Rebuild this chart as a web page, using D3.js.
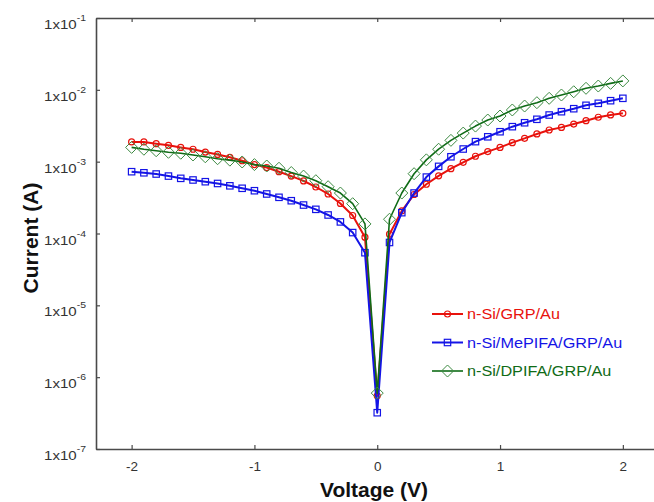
<!DOCTYPE html>
<html>
<head>
<meta charset="utf-8">
<script src="https://cdn.jsdelivr.net/npm/d3@7"></script>
<style>
  html, body { margin: 0; padding: 0; background: #fff; }
  svg { display: block; font-family: "Liberation Sans", Arial, sans-serif; }
</style>
</head>
<body>
<svg id="chart" width="654" height="502"></svg>
<script>
// ---- data ----
const voltages = [-2.0,-1.9,-1.8,-1.7,-1.6,-1.5,-1.4,-1.3,-1.2,-1.1,-1.0,-0.9,-0.8,-0.7,-0.6,-0.5,-0.4,-0.3,-0.2,-0.1,
  0.0,0.1,0.2,0.3,0.4,0.5,0.6,0.7,0.8,0.9,1.0,1.1,1.2,1.3,1.4,1.5,1.6,1.7,1.8,1.9,2.0];

const currentGRP = [1.88e-3,1.88e-3,1.78e-3,1.69e-3,1.58e-3,1.49e-3,1.36e-3,1.26e-3,1.15e-3,1.03e-3,
  9.1e-4,8.3e-4,7.25e-4,6.3e-4,5.4e-4,4.44e-4,3.55e-4,2.62e-4,1.78e-4,8.9e-5,
  5.5e-7,
  9.8e-5,2.06e-4,3.49e-4,4.85e-4,6.35e-4,8.0e-4,9.8e-4,1.19e-3,1.38e-3,1.58e-3,
  1.84e-3,2.11e-3,2.43e-3,2.76e-3,3.0e-3,3.34e-3,3.72e-3,4.15e-3,4.47e-3,4.71e-3];

const currentMePIFA = [7.25e-4,7.0e-4,6.73e-4,6.3e-4,5.86e-4,5.56e-4,5.26e-4,4.97e-4,4.61e-4,4.26e-4,
  3.94e-4,3.55e-4,3.19e-4,2.86e-4,2.49e-4,2.17e-4,1.81e-4,1.45e-4,1.03e-4,5.4e-5,
  3.2e-7,
  7.5e-5,1.95e-4,3.66e-4,6.1e-4,8.6e-4,1.17e-3,1.5e-3,1.9e-3,2.22e-3,2.61e-3,
  3.07e-3,3.48e-3,3.89e-3,4.46e-3,4.96e-3,5.46e-3,6.09e-3,6.49e-3,7.06e-3,7.62e-3];

const currentDPIFA = [1.58e-3,1.49e-3,1.42e-3,1.35e-3,1.31e-3,1.24e-3,1.17e-3,1.10e-3,1.05e-3,9.9e-4,
  9.1e-4,8.7e-4,8.1e-4,7.06e-4,6.3e-4,5.43e-4,4.48e-4,3.66e-4,2.6e-4,1.36e-4,
  6.0e-7,
  1.58e-4,3.66e-4,6.8e-4,1.06e-3,1.49e-3,1.98e-3,2.5e-3,3.13e-3,3.8e-3,4.32e-3,
  5.24e-3,5.95e-3,6.62e-3,7.62e-3,8.47e-3,9.4e-3,1.05e-2,1.13e-2,1.23e-2,1.33e-2];

const seriesNames = ["n-Si/GRP/Au", "n-Si/MePIFA/GRP/Au", "n-Si/DPIFA/GRP/Au"];
const xTicks = [-2, -1, 0, 1, 2];
const yTicks = [1e-7, 1e-6, 1e-5, 1e-4, 1e-3, 1e-2, 1e-1];
const yTickExponents = ["-7", "-6", "-5", "-4", "-3", "-2", "-1"];
const xTitle = "Voltage (V)";
const yTitle = "Current (A)";

// ---- styles ----
const styles = [
  { line: "#e8120c", marker: "#e8120c", width: 2, shape: "circle" },
  { line: "#1414e6", marker: "#1414e6", width: 2, shape: "square" },
  { line: "#0f6b16", marker: "#3d8a42", width: 1.6, shape: "diamond" }
];
const seriesValues = [currentGRP, currentMePIFA, currentDPIFA];

const svg = d3.select("#chart");
const axisColor = "#4a4a4a";
const textStretch = 1.16;

const x = d3.scaleLinear().domain([-2.29, 2.3]).range([96, 659.7]);
const y = d3.scaleLog().domain([1e-7, 1e-1]).range([449, 18]);

// axes
const gBottom = svg.append("g").attr("transform", `translate(0,${y(1e-7)})`)
  .call(d3.axisBottom(x).tickValues(xTicks).tickSize(-4).tickSizeOuter(0).tickFormat(d => String(d)));
const gTop = svg.append("g").attr("transform", `translate(0,${y(1e-1)})`)
  .call(d3.axisTop(x).tickValues(xTicks).tickSize(-4).tickSizeOuter(0).tickFormat(""));
const gLeft = svg.append("g").attr("transform", `translate(${x(-2.29)},0)`)
  .call(d3.axisLeft(y).tickValues(yTicks).tickSize(-4).tickSizeOuter(0).tickFormat(""));

[gBottom, gTop, gLeft].forEach(g => {
  g.select(".domain").attr("stroke", axisColor).attr("stroke-width", 1.6);
  g.selectAll(".tick line").attr("stroke", axisColor).attr("stroke-width", 1.2);
});
gBottom.selectAll(".tick text")
  .attr("font-size", 13.5).attr("fill", "#333").attr("y", 0).attr("dy", "1.6em")
  .style("font-family", "'Liberation Sans', Arial, sans-serif");

// y tick labels with superscript
const yl = svg.append("g");
yTicks.forEach((t, i) => {
  const txt = yl.append("text")
    .attr("transform", `translate(86,${y(t) + 11}) scale(${textStretch},1)`)
    .attr("text-anchor", "end")
    .attr("font-size", 13).attr("fill", "#333");
  txt.append("tspan").text("1x10");
  txt.append("tspan").attr("font-size", 9).attr("dy", -8).text(yTickExponents[i]);
});

// axis titles
svg.append("text").attr("x", 374).attr("y", 497)
  .attr("text-anchor", "middle").attr("font-size", 21).attr("font-weight", "bold")
  .attr("fill", "#111").text(xTitle);
svg.append("text")
  .attr("transform", `translate(38,${238}) rotate(-90)`)
  .attr("text-anchor", "middle").attr("font-size", 21).attr("font-weight", "bold")
  .attr("fill", "#111").text(yTitle);

// marker helper
function drawMarker(g, shape, cx, cy, color) {
  if (shape === "circle") {
    g.append("circle").attr("cx", cx).attr("cy", cy).attr("r", 3)
      .attr("fill", "none").attr("stroke", color).attr("stroke-width", 1.2);
  } else if (shape === "square") {
    g.append("rect").attr("x", cx - 3.2).attr("y", cy - 3.2).attr("width", 6.4).attr("height", 6.4)
      .attr("fill", "none").attr("stroke", color).attr("stroke-width", 1.2);
  } else {
    const r = 6;
    g.append("path").attr("d", `M${cx - r},${cy} L${cx},${cy - r} L${cx + r},${cy} L${cx},${cy + r} Z`)
      .attr("fill", "none").attr("stroke", color).attr("stroke-width", 1);
  }
}

// series
const line = d3.line().x(d => x(d[0])).y(d => y(d[1]));
seriesValues.forEach((vals, si) => {
  const st = styles[si];
  const pts = voltages.map((v, i) => [v, vals[i]]);
  const g = svg.append("g");
  g.append("path").datum(pts).attr("d", line)
    .attr("fill", "none").attr("stroke", st.line).attr("stroke-width", st.width)
    .attr("stroke-linejoin", "round");
  pts.forEach(p => drawMarker(g, st.shape, x(p[0]), y(p[1]), st.marker));
});

// legend
const legendY = [314, 342.5, 371];
seriesNames.forEach((name, si) => {
  const st = styles[si];
  const g = svg.append("g");
  g.append("line").attr("x1", 432).attr("x2", 463).attr("y1", legendY[si]).attr("y2", legendY[si])
    .attr("stroke", st.line).attr("stroke-width", st.width);
  drawMarker(g, st.shape, 447.5, legendY[si], st.marker);
  g.append("text").attr("transform", `translate(467,${legendY[si] + 5}) scale(${textStretch},1)`)
    .attr("font-size", 14).attr("fill", st.line).text(name);
});
</script>
</body>
</html>
